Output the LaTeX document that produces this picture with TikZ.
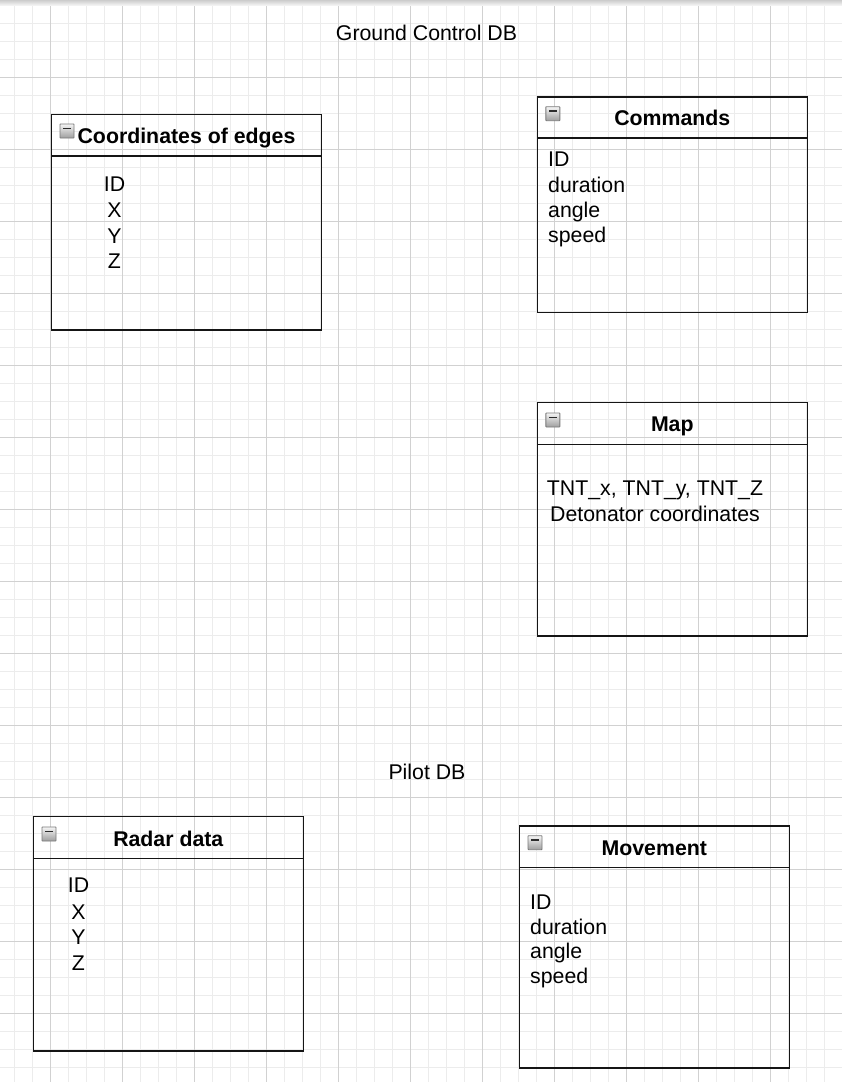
\documentclass[tikz,border=0pt]{standalone}
\usepackage{fontspec}
\setmainfont{Liberation Sans}
\usetikzlibrary{shadings}
\definecolor{gmin}{HTML}{ECECEC}
\definecolor{gmaj}{HTML}{D1D1D1}
\definecolor{ink}{HTML}{151515}
\definecolor{iconbd}{HTML}{7A7A7A}
\tikzset{
  tbox/.style={draw=ink, line width=1.6pt, inner sep=0pt, outer sep=0pt, anchor=north west, minimum width=270, minimum height=#1},
  divline/.style={draw=ink, line width=1.6pt},
  ttl/.style={font=\fontsize{21.3}{25.5}\selectfont\bfseries, anchor=base, inner sep=0pt},
  attrl/.style={font=\fontsize{21.3}{25.5}\selectfont, anchor=base west, inner sep=0pt},
  attrc/.style={font=\fontsize{21.3}{25.5}\selectfont, anchor=base, inner sep=0pt},
  dblabel/.style={font=\fontsize{21.3}{25.5}\selectfont, anchor=base, inner sep=0pt},
  icon/.style={draw=iconbd, line width=0.9pt, rounded corners=0.6pt, minimum size=14, inner sep=0pt, outer sep=0pt,
    anchor=north west, top color=white!96!black, bottom color=white!62!black,
    path picture={\draw[line width=1.7pt, ink!90] ([xshift=-3.8pt, yshift=2.4pt]path picture bounding box.center) -- ++(7.6,0);}},
}
\begin{document}
\begin{tikzpicture}[x=1pt, y=-1pt]
\useasboundingbox (0,0) rectangle (842,1082);
\fill[white] (0,0) rectangle (842,1082);
% grid
\foreach \gx in {14,32,...,842} \draw[gmin, line width=1pt] (\gx,5) -- (\gx,1082);
\foreach \gy in {5,23,...,1082} \draw[gmin, line width=1pt] (0,\gy) -- (842,\gy);
\foreach \gx in {50,122,...,842} \draw[gmaj, line width=1pt] (\gx,5) -- (\gx,1082);
\foreach \gy in {5,77,...,1082} \draw[gmaj, line width=1pt] (0,\gy) -- (842,\gy);
\shade[top color=white!80!black, bottom color=white!95!black] (0,0) rectangle (842,5);

% labels
\node[dblabel] (gcdb) at (426.5,40) {Ground Control DB};
\node[dblabel] (pdb) at (427,779) {Pilot DB};

% Coordinates of edges
\node[tbox=215.7] (coords) at (51.5,114.3) {};
\draw[divline] (coords.north west) ++(0,41.5) -- ++(270,0);
\node[icon] (coordsicon) at (60,124) {};
\node[ttl] (coordsttl) at (186.5,143.3) {Coordinates of edges};
\foreach \t/\b [count=\i] in {ID/191, X/217.5, Y/243, Z/268.5}
  \node[attrc] (coordsa\i) at (114.5,\b) {\t};

% Commands
\node[tbox=215.6] (cmds) at (537.3,96.7) {};
\draw[divline] (cmds.north west) ++(0,41.3) -- ++(270,0);
\node[icon] (cmdsicon) at (545.8,106.7) {};
\node[ttl] (cmdsttl) at (672.3,125) {Commands};
\foreach \t/\b [count=\i] in {ID/166.7, duration/192.3, angle/217.7, speed/242.7}
  \node[attrl] (cmdsa\i) at (548,\b) {\t};

% Map
\node[tbox=233.7] (map) at (537.3,402.3) {};
\draw[divline] (map.north west) ++(0,42) -- ++(270,0);
\node[icon] (mapicon) at (545.8,413) {};
\node[ttl] (mapttl) at (672.3,431.7) {Map};
\node[attrc] (mapa1) at (655,495) {TNT\_x, TNT\_y, TNT\_Z};
\node[attrc] (mapa2) at (655,521.5) {Detonator coordinates};

% Radar data
\node[tbox=234.2] (radar) at (33.3,816.5) {};
\draw[divline] (radar.north west) ++(0,41.8) -- ++(270,0);
\node[icon] (radaricon) at (42,827) {};
\node[ttl] (radarttl) at (168.3,846) {Radar data};
\foreach \t/\b [count=\i] in {ID/892.3, X/919, Y/944.3, Z/970}
  \node[attrc] (radara\i) at (78.5,\b) {\t};

% Movement
\node[tbox=242] (move) at (519.3,826) {};
\draw[divline] (move.north west) ++(0,41.3) -- ++(270,0);
\node[icon] (moveicon) at (528,835.7) {};
\node[ttl] (movettl) at (654.3,855) {Movement};
\foreach \t/\b [count=\i] in {ID/909, duration/934, angle/958.5, speed/983}
  \node[attrl] (movea\i) at (530,\b) {\t};
\end{tikzpicture}
\end{document}
